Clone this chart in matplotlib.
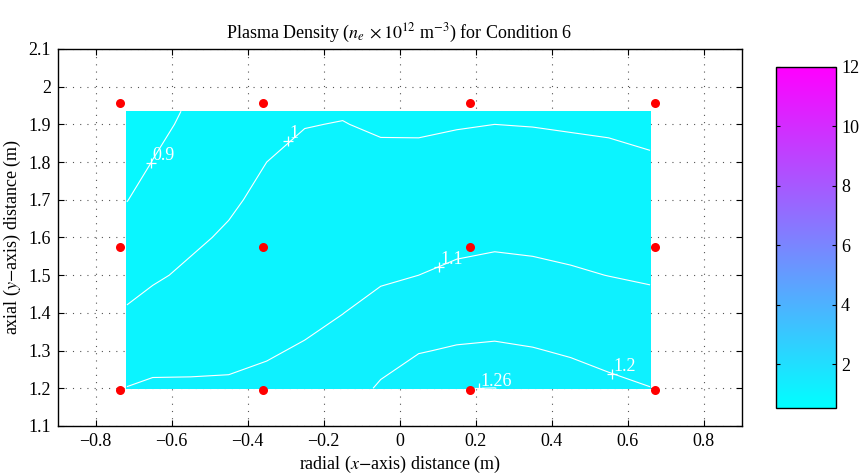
import matplotlib
matplotlib.use("Agg")
import matplotlib.pyplot as plt
import numpy as np
from matplotlib.colors import Normalize
from matplotlib.cm import ScalarMappable

# grid of densities (x10^12 m^-3)
grid_x = [-0.718, -0.65, -0.55, -0.45, -0.35, -0.25, -0.15, -0.05,
          0.05, 0.15, 0.25, 0.35, 0.45, 0.55, 0.659]
grid_y = [1.2, 1.3, 1.4, 1.5, 1.6, 1.7, 1.8, 1.9, 1.935]
density = [
    [1.102, 1.112, 1.110, 1.109, 1.113, 1.130, 1.160, 1.210, 1.245, 1.259, 1.2605, 1.249, 1.235, 1.217, 1.2015],
    [1.055, 1.070, 1.077, 1.084, 1.095, 1.105, 1.129, 1.167, 1.196, 1.207, 1.211, 1.204, 1.192, 1.177, 1.164],
    [1.008, 1.027, 1.045, 1.059, 1.076, 1.087, 1.099, 1.124, 1.148, 1.161, 1.167, 1.160, 1.150, 1.138, 1.126],
    [0.970, 0.990, 1.013, 1.035, 1.057, 1.070, 1.079, 1.090, 1.100, 1.114, 1.123, 1.117, 1.108, 1.099, 1.091],
    [0.934, 0.960, 0.987, 1.010, 1.038, 1.052, 1.060, 1.065, 1.073, 1.081, 1.086, 1.083, 1.078, 1.072, 1.064],
    [0.898, 0.931, 0.965, 0.988, 1.019, 1.034, 1.041, 1.041, 1.045, 1.052, 1.057, 1.054, 1.050, 1.045, 1.036],
    [0.862, 0.902, 0.943, 0.968, 1.000, 1.016, 1.021, 1.017, 1.018, 1.024, 1.028, 1.026, 1.022, 1.018, 1.009],
    [0.826, 0.872, 0.921, 0.948, 0.980, 0.998, 1.002, 0.991, 0.990, 0.996, 1.000, 0.998, 0.994, 0.990, 0.980],
    [0.813, 0.862, 0.913, 0.941, 0.973, 0.991, 0.995, 0.981, 0.980, 0.985, 0.990, 0.987, 0.984, 0.979, 0.969],
]
contour_levels = [0.9, 1.0, 1.1, 1.2, 1.26]
label_text = ["0.9", "1", "1.1", "1.2", "1.26"]
label_x = [-0.655, -0.294, 0.104, 0.559, 0.209]
label_y = [1.798, 1.857, 1.522, 1.238, 1.2]

# probe locations
probe_x = [-0.735, -0.36, 0.185, 0.673]
probe_y = [1.196, 1.575, 1.957]

xticks = [-0.8, -0.6, -0.4, -0.2, 0.0, 0.2, 0.4, 0.6, 0.8]
xtick_labels = ["\u22120.8", "\u22120.6", "\u22120.4", "\u22120.2", "0", "0.2", "0.4", "0.6", "0.8"]
yticks = [1.1, 1.2, 1.3, 1.4, 1.5, 1.6, 1.7, 1.8, 1.9, 2.0, 2.1]
ytick_labels = ["1.1", "1.2", "1.3", "1.4", "1.5", "1.6", "1.7", "1.8", "1.9", "2", "2.1"]
cbar_ticks = [2, 4, 6, 8, 10, 12]
cbar_min, cbar_max = 0.52, 12

plt.rcParams["font.family"] = ["Liberation Serif", "DejaVu Serif"]
plt.rcParams["mathtext.fontset"] = "stix"
plt.rcParams["font.size"] = 13

fig = plt.figure(figsize=(8.63, 4.75), dpi=100)
ax = fig.add_axes([0.0669, 0.1032, 0.7925, 0.7937])

cmap = plt.get_cmap("cool")
norm = Normalize(vmin=cbar_min, vmax=cbar_max)

X, Y = np.meshgrid(grid_x, grid_y)
Z = np.array(density)
fill_levels = [0.8] + contour_levels + [1.3]
ax.contourf(X, Y, Z, levels=fill_levels, cmap=cmap, norm=norm, antialiased=False, zorder=1)
ax.contour(X, Y, Z, levels=contour_levels, colors="white", linewidths=0.8, zorder=2)

for txt, lx, ly in zip(label_text, label_x, label_y):
    ax.plot(lx, ly, "+", color="white", ms=7, mew=0.9, zorder=3)
    ax.annotate(txt, (lx, ly), xytext=(1, 2), textcoords="offset points",
                color="white", fontsize=13, ha="left", va="baseline", zorder=3)

px, py = np.meshgrid(probe_x, probe_y)
ax.plot(px.ravel(), py.ravel(), "o", color="red", ms=6.5, mec="none", zorder=4)

ax.set_xlim(-0.9, 0.9)
ax.set_ylim(1.1, 2.1)
ax.set_xticks(xticks)
ax.set_xticklabels(xtick_labels)
ax.set_yticks(yticks)
ax.set_yticklabels(ytick_labels)
ax.tick_params(direction="in", top=True, right=True, length=4, width=0.8, pad=5)
ax.set_axisbelow(True)
ax.grid(True, color="#555555", linestyle=(0, (1, 5.5)), linewidth=0.8)
for s in ax.spines.values():
    s.set_linewidth(1.0)

ax.set_xlabel(r"radial ($x$$-$axis) distance (m)", labelpad=3)
ax.set_ylabel(r"axial ($y$$-$axis) distance (m)", labelpad=4)
ax.set_title(r"Plasma Density ($n_e\,\times 10^{12}$ m$^{-3}$) for Condition 6", pad=8, fontsize=13)

cax = fig.add_axes([0.8987, 0.141, 0.0695, 0.718])
cb = fig.colorbar(ScalarMappable(norm=norm, cmap=cmap), cax=cax, ticks=cbar_ticks)
cb.ax.tick_params(direction="in", left=True, right=True, length=3, width=0.8, pad=4)
cb.outline.set_linewidth(1.0)

fig.savefig("out.png", dpi=100)
